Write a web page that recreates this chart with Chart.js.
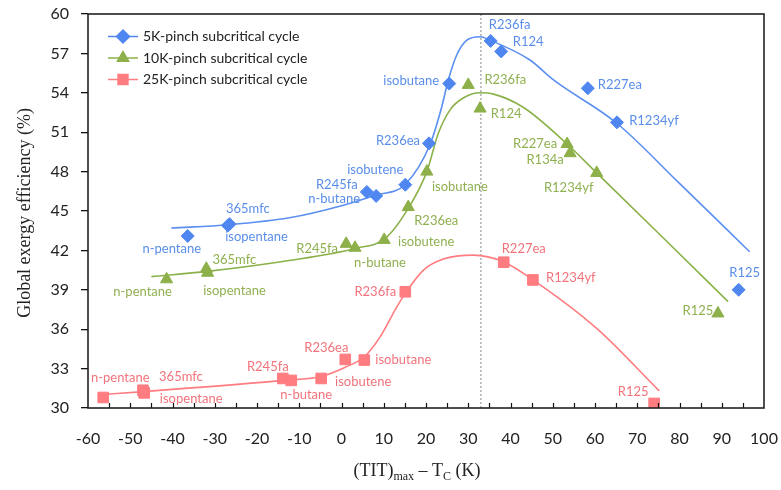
<!DOCTYPE html>
<html>
<head>
<meta charset="utf-8">
<script src="https://cdn.jsdelivr.net/npm/chart.js@4.4.1/dist/chart.umd.min.js"></script>
<style>
html,body{margin:0;padding:0;background:#fff;}
canvas{display:block;}
</style>
</head>
<body>
<canvas id="c" width="781" height="490"></canvas>
<script>
// ---------------- DATA ----------------
const seriesNames = ['5K-pinch subcritical cycle', '10K-pinch subcritical cycle', '25K-pinch subcritical cycle'];

const blueNames = ['n-pentane','365mfc','isopentane','R245fa','n-butane','isobutene','R236ea','isobutane','R236fa','R124','R227ea','R1234yf','R125'];
const blueX = [-36.4, -26.9, -26.5, 6.0, 8.2, 15.1, 20.7, 25.5, 35.3, 37.8, 58.3, 65.2, 94.0];
const blueY = [43.1, 43.9, 44.0, 46.45, 46.15, 47.0, 50.15, 54.7, 57.95, 57.15, 54.35, 51.75, 39.0];

const greenNames = ['n-pentane','365mfc','isopentane','R245fa','n-butane','isobutene','R236ea','isobutane','R236fa','R124','R227ea','R134a','R1234yf','R125'];
const greenX = [-41.4, -32.0, -31.7, 1.1, 3.2, 10.1, 15.8, 20.2, 30.0, 32.8, 53.4, 54.1, 60.4, 89.1];
const greenY = [39.8, 40.6, 40.3, 42.5, 42.2, 42.8, 45.3, 48.0, 54.6, 52.8, 50.1, 49.4, 47.9, 37.2];

const redNames = ['n-pentane','365mfc','isopentane','R245fa','n-butane','isobutene','R236ea','isobutane','R236fa','R227ea','R1234yf','R125'];
const redX = [-56.4, -47.0, -46.7, -13.9, -11.9, -4.8, 0.9, 5.4, 15.1, 38.4, 45.3, 74.0];
const redY = [30.8, 31.35, 31.15, 32.25, 32.1, 32.25, 33.7, 33.65, 38.85, 41.1, 39.75, 30.35];

// trend curves
const blueCurveX = [-40.3, -26.7, -12, 0, 8, 15, 21, 23.7, 25.3, 27.3, 29.6, 32.8, 35.2, 44.6, 50.1, 65.1, 80, 96.6];
const blueCurveY = [43.7, 43.95, 44.5, 45.4, 46.2, 47.0, 50.1, 52.9, 55.0, 56.9, 58.0, 58.27, 58.0, 56.5, 55.0, 51.7, 47.1, 41.9];
const greenCurveX = [-45, -31.8, -12, 3.2, 10.3, 15.8, 20.2, 22.9, 25.7, 28.8, 32.8, 36, 43, 53.4, 60.4, 76, 91.5];
const greenCurveY = [40.0, 40.4, 41.25, 42.15, 42.9, 45.2, 48.0, 50.9, 52.7, 53.6, 54.0, 53.9, 52.9, 50.1, 47.9, 43.0, 38.1];
const redCurveX = [-56.3, -46.8, -13.8, -4.8, 0.9, 5.4, 9.1, 13.1, 15.1, 19.4, 24.1, 31.2, 38.3, 45.4, 60.4, 75.2];
const redCurveY = [31.03, 31.25, 32.1, 32.4, 33.1, 33.9, 35.4, 37.7, 38.73, 40.5, 41.34, 41.64, 41.14, 39.74, 36.06, 31.3];

// vertical dotted reference line
const refLineX = [33, 33];
const refLineY = [30, 60];

// axis ticks
const xMin = -60, xMax = 100, xStep = 10, xMinorStep = 5;
const yMin = 30, yMax = 60, yStep = 3;

// ---------------- STYLE (label offsets in px) ----------------
const blueOffsets = [[-16,13],[20,-17],[27,13],[-30,-7],[-42,3],[-30,-15],[-31,-3],[-38,-3],[19,-16],[27,-10],[32,-3],[37,-2],[6,-17]];
const greenOffsets = [[-24,13],[28,-9],[27,18],[-29,5],[25,15],[42,2],[28,14],[33,15],[37,-5],[26,5],[-32,0],[-25,7],[-28,15],[-20,-3]];
const redOffsets = [[17,-20],[38,-13],[47,6],[-15,-12],[15,14],[42,3],[-19,-12],[39,0],[-30,0],[20,-13],[38,-2],[-21,-12]];

const blueC = '#4F86F0', greenC = '#8DB04A', redC = '#FF7C80';
const blueT = '#5A8EEA', greenT = '#8FB050', redT = '#F2737B';

const zip = (xs, ys) => xs.map((x, i) => ({x: x, y: ys[i]}));

const markerSets = [
  {names: blueNames, offs: blueOffsets, color: blueT},
  {names: greenNames, offs: greenOffsets, color: greenT},
  {names: redNames, offs: redOffsets, color: redT}
];

const labelPlugin = {
  id: 'pointLabels',
  afterDatasetsDraw(chart) {
    const ctx = chart.ctx;
    ctx.save();
    ctx.font = '13px Lato';
    ctx.textAlign = 'center';
    ctx.textBaseline = 'middle';
    markerSets.forEach((s, di) => {
      const meta = chart.getDatasetMeta(di);
      ctx.fillStyle = s.color;
      meta.data.forEach((el, i) => {
        const o = s.offs[i];
        ctx.fillText(s.names[i], el.x + o[0], el.y + o[1]);
      });
    });
    ctx.restore();
  }
};

const framePlugin = {
  id: 'frame',
  afterDatasetsDraw(chart) {
    const ctx = chart.ctx, a = chart.chartArea, xs = chart.scales.x;
    ctx.save();
    ctx.strokeStyle = '#111';
    ctx.beginPath();
    for (let v = xMin + xMinorStep; v < xMax; v += xMinorStep) {
      const px = Math.round(xs.getPixelForValue(v)) + 0.5;
      ctx.moveTo(px, a.bottom);
      ctx.lineTo(px, a.bottom - 5);
    }
    ctx.lineWidth = 1.2;
    ctx.stroke();
    ctx.lineWidth = 1.6;
    ctx.strokeStyle = '#222';
    ctx.strokeRect(a.left, a.top, a.right - a.left, a.bottom - a.top);
    ctx.restore();
  },
  afterDraw(chart) {
    const ctx = chart.ctx;
    ctx.save();
    // legend
    const styles = ['rectRot', 'triangle', 'rect'];
    const cols = [blueC, greenC, redC];
    const rows = [36.5, 58, 79.5];
    ctx.font = '14px Lato';
    ctx.textBaseline = 'middle';
    ctx.textAlign = 'left';
    rows.forEach((y, i) => {
      ctx.strokeStyle = cols[i];
      ctx.lineWidth = 1.5;
      ctx.beginPath();
      ctx.moveTo(108, y); ctx.lineTo(138, y); ctx.stroke();
      ctx.fillStyle = cols[i];
      ctx.strokeStyle = cols[i];
      Chart.helpers.drawPoint(ctx, {pointStyle: styles[i], radius: i === 2 ? 7 : 6.5, borderWidth: 1, rotation: 0}, 123, y);
      ctx.fillStyle = '#222';
      ctx.fillText(seriesNames[i], 143, y);
    });
    // y title
    ctx.save();
    ctx.translate(25, 213);
    ctx.rotate(-Math.PI / 2);
    ctx.font = '18px "Liberation Serif"';
    ctx.fillStyle = '#222';
    ctx.textAlign = 'center';
    ctx.textBaseline = 'middle';
    ctx.fillText('Global exergy efficiency (%)', 0, 0);
    ctx.restore();
    // x title with subscripts
    const parts = [['(TIT)', 18, 0], ['max', 12, 4], [' \u2013 T', 18, 0], ['C', 12, 4], [' (K)', 18, 0]];
    let total = 0;
    parts.forEach(p => { ctx.font = p[1] + 'px "Liberation Serif"'; total += ctx.measureText(p[0]).width; });
    let x = 417 - total / 2;
    const base = 476;
    ctx.fillStyle = '#222';
    ctx.textBaseline = 'alphabetic';
    parts.forEach(p => {
      ctx.font = p[1] + 'px "Liberation Serif"';
      ctx.fillText(p[0], x, base + p[2]);
      x += ctx.measureText(p[0]).width;
    });
    ctx.restore();
  }
};

const markerCommon = {showLine: false, borderWidth: 1, pointHoverRadius: 6};
const curveCommon = {showLine: true, pointRadius: 0, borderWidth: 1.6, cubicInterpolationMode: 'monotone', fill: false};

new Chart(document.getElementById('c'), {
  type: 'scatter',
  data: {
    datasets: [
      Object.assign({label: seriesNames[0], data: zip(blueX, blueY), pointStyle: 'rectRot', pointRadius: 6.5, backgroundColor: blueC, borderColor: blueC}, markerCommon),
      Object.assign({label: seriesNames[1], data: zip(greenX, greenY), pointStyle: 'triangle', pointRadius: 7, backgroundColor: greenC, borderColor: greenC}, markerCommon),
      Object.assign({label: seriesNames[2], data: zip(redX, redY), pointStyle: 'rect', pointRadius: 7.5, backgroundColor: redC, borderColor: redC}, markerCommon),
      Object.assign({label: 'fit 5K', data: zip(blueCurveX, blueCurveY), borderColor: '#5B8FF0'}, curveCommon),
      Object.assign({label: 'fit 10K', data: zip(greenCurveX, greenCurveY), borderColor: '#8CB14A'}, curveCommon),
      Object.assign({label: 'fit 25K', data: zip(redCurveX, redCurveY), borderColor: '#FF7C80'}, curveCommon),
      {label: 'ref', data: zip(refLineX, refLineY), showLine: true, pointRadius: 0, borderColor: '#888', borderWidth: 1, borderDash: [2, 2]}
    ]
  },
  options: {
    responsive: false,
    devicePixelRatio: 1,
    animation: false,
    layout: {padding: {left: 0, top: 14, right: 17, bottom: 0}},
    plugins: {legend: {display: false}, tooltip: {enabled: false}},
    scales: {
      x: {
        type: 'linear', min: xMin, max: xMax,
        ticks: {stepSize: xStep, font: {family: 'Lato', size: 16}, color: '#222', padding: 21, maxRotation: 0},
        grid: {display: false, drawTicks: false},
        border: {display: false},
        afterFit(s) { s.height = 82; s.paddingLeft = 0; s.paddingRight = 0; }
      },
      y: {
        type: 'linear', min: yMin, max: yMax,
        ticks: {stepSize: yStep, font: {family: 'Lato', size: 16}, color: '#222', padding: 12},
        grid: {drawOnChartArea: false, drawTicks: true, tickLength: 7, color: '#111', lineWidth: 1.3},
        border: {display: false},
        afterFit(s) { s.width = 88; s.paddingTop = 0; s.paddingBottom = 0; }
      }
    }
  },
  plugins: [labelPlugin, framePlugin]
});
</script>
</body>
</html>
